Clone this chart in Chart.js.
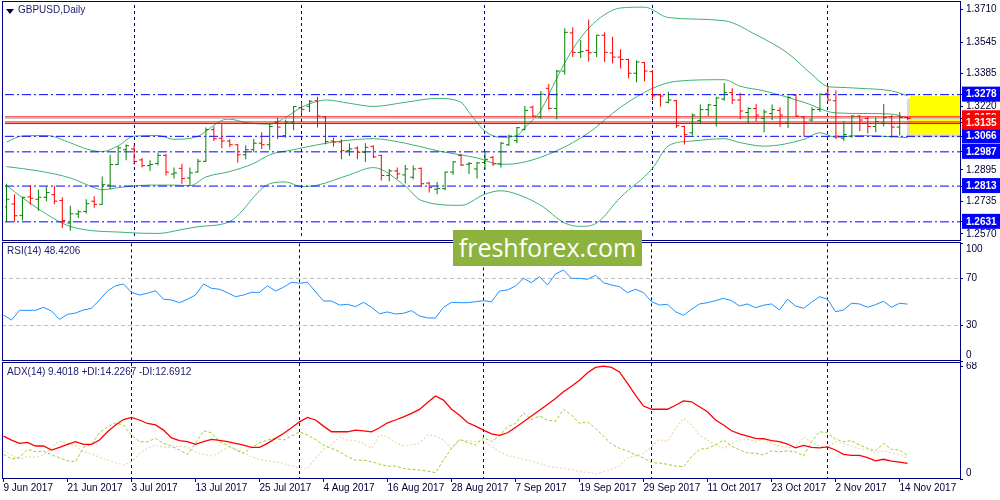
<!DOCTYPE html>
<html>
<head>
<meta charset="utf-8">
<title>GBPUSD Daily</title>
<script src="https://cdn.jsdelivr.net/npm/chart.js@4.4.1/dist/chart.umd.min.js"></script>
<style>
  html, body { margin: 0; padding: 0; background: #fff; }
  body { width: 1000px; height: 500px; position: relative; overflow: hidden; font-family: 'Liberation Sans', Arial, sans-serif; }
  canvas { position: absolute; left: 0; }
  .frame { position: absolute; left: 2px; width: 959px; border: 1px solid #000080; box-sizing: border-box; pointer-events: none; }
  .lbl { position: absolute; font-size: 10px; color: #202070; white-space: nowrap; }
  .tri { position: absolute; left: 6px; top: 9px; width: 0; height: 0; border-left: 4px solid transparent; border-right: 4px solid transparent; border-top: 5px solid #000040; }
  #brand { position: absolute; left: 453px; top: 230px; width: 189px; height: 36px; background: #8db33f; color: #fff; font-family: 'Open Sans', sans-serif; font-size: 25px; line-height: 35px; text-align: center; }
</style>
</head>
<body>
<canvas id="priceChart" width="1000" height="241" style="top:0"></canvas>
<canvas id="rsiChart" width="1000" height="120" style="top:242px"></canvas>
<canvas id="adxChart" width="1000" height="138" style="top:362px"></canvas>
<div class="frame" style="top:1px;height:240px"></div>
<div class="frame" style="top:242px;height:119px"></div>
<div class="frame" style="top:362px;height:117px"></div>
<div class="tri"></div>
<div class="lbl" style="left:18px;top:4px">GBPUSD,Daily</div>
<div class="lbl" style="left:7px;top:245px">RSI(14) 48.4206</div>
<div class="lbl" style="left:7px;top:366px">ADX(14) 9.4018 +DI:14.2267 -DI:12.6912</div>
<div id="brand">freshforex.com</div>
<script>
// date axis: one label every 8 daily bars, month separators
const xTickPos = [0, 8, 16, 24, 32, 40, 48, 56, 64, 72, 80, 88, 96, 104, 112];
const xTickLabels = ['9 Jun 2017', '21 Jun 2017', '3 Jul 2017', '13 Jul 2017', '25 Jul 2017', '4 Aug 2017',
  '16 Aug 2017', '28 Aug 2017', '7 Sep 2017', '19 Sep 2017', '29 Sep 2017', '11 Oct 2017',
  '23 Oct 2017', '2 Nov 2017', '14 Nov 2017'];
const monthStarts = [16, 37, 60, 81, 103];

// GBPUSD daily bars
const open = [
  1.2707,1.2722,1.2664,1.2758,1.2746,1.2756,1.2769,1.2740,1.2625,1.2671,
  1.2684,1.2736,1.2720,1.2818,1.2923,1.2998,1.3002,1.2946,1.2917,1.2928,
  1.2969,1.2874,1.2903,1.2854,1.2884,1.2939,1.3100,1.3056,1.3042,1.3023,
  1.2972,1.2998,1.3031,1.3023,1.3139,1.3070,1.3138,1.3212,1.3219,1.3247,
  1.3165,1.3042,1.3037,1.2993,1.3006,1.2985,1.3015,1.2969,1.2867,1.2890,
  1.2870,1.2858,1.2903,1.2828,1.2797,1.2800,1.2884,1.2969,1.2924,1.2900,
  1.2933,1.2959,1.2926,1.3023,1.3044,1.3100,1.3214,1.3165,1.3310,1.3208,
  1.3398,1.3592,1.3493,1.3503,1.3493,1.3580,1.3490,1.3469,1.3457,1.3387,
  1.3441,1.3395,1.3277,1.3239,1.3247,1.3116,1.3084,1.3146,1.3202,1.3223,
  1.3256,1.3288,1.3251,1.3187,1.3207,1.3157,1.3182,1.3198,1.3133,1.3275,
  1.3165,1.3149,1.3202,1.3285,1.3247,1.3056,1.3067,1.3169,1.3157,1.3116,
  1.3133,1.3165,1.3113,1.3162];
const high = [
  1.2825,1.2772,1.2759,1.2818,1.2795,1.2810,1.2815,1.2756,1.2713,1.2690,
  1.2746,1.2761,1.2862,1.2972,1.3015,1.3026,1.3021,1.2956,1.2944,1.2982,
  1.2976,1.2907,1.2926,1.2907,1.2952,1.3111,1.3116,1.3128,1.3051,1.3026,
  1.3021,1.3054,1.3087,1.3129,1.3160,1.3152,1.3219,1.3239,1.3251,1.3267,
  1.3169,1.3059,1.3051,1.3030,1.3015,1.3031,1.3021,1.2972,1.2900,1.2907,
  1.2920,1.2917,1.2907,1.2834,1.2834,1.2887,1.2939,1.2977,1.2936,1.2936,
  1.2993,1.2966,1.3037,1.3075,1.3113,1.3221,1.3221,1.3297,1.3332,1.3403,
  1.3616,1.3621,1.3556,1.3660,1.3583,1.3595,1.3572,1.3509,1.3460,1.3452,
  1.3444,1.3403,1.3283,1.3293,1.3251,1.3120,1.3182,1.3228,1.3231,1.3267,
  1.3337,1.3310,1.3288,1.3214,1.3231,1.3202,1.3228,1.3214,1.3272,1.3280,
  1.3169,1.3214,1.3285,1.3321,1.3300,1.3141,1.3174,1.3174,1.3165,1.3162,
  1.3231,1.3174,1.3190,1.3165];
const low = [
  1.2631,1.2631,1.2638,1.2718,1.2687,1.2736,1.2720,1.2600,1.2586,1.2651,
  1.2674,1.2703,1.2718,1.2795,1.2920,1.2944,1.2923,1.2907,1.2890,1.2917,
  1.2867,1.2851,1.2825,1.2813,1.2882,1.2936,1.3042,1.3005,1.3010,1.2933,
  1.2949,1.2985,1.3002,1.2998,1.3051,1.3059,1.3097,1.3182,1.3190,1.3111,
  1.3026,1.3013,1.2949,1.2966,1.2949,1.2936,1.2956,1.2841,1.2838,1.2849,
  1.2826,1.2848,1.2808,1.2780,1.2772,1.2792,1.2870,1.2915,1.2874,1.2851,
  1.2895,1.2915,1.2907,1.3018,1.3031,1.3097,1.3162,1.3157,1.3202,1.3153,
  1.3379,1.3469,1.3464,1.3447,1.3469,1.3444,1.3436,1.3411,1.3362,1.3341,
  1.3346,1.3251,1.3218,1.3234,1.3108,1.3025,1.3070,1.3129,1.3169,1.3116,
  1.3247,1.3231,1.3153,1.3133,1.3141,1.3087,1.3149,1.3113,1.3108,1.3165,
  1.3067,1.3141,1.3190,1.3244,1.3051,1.3042,1.3059,1.3092,1.3080,1.3087,
  1.3116,1.3059,1.3070,1.3149];
const close = [
  1.2746,1.2662,1.2756,1.2751,1.2756,1.2780,1.2736,1.2638,1.2672,1.2682,
  1.2723,1.2720,1.2820,1.2923,1.3007,1.3018,1.2938,1.2917,1.2923,1.2969,
  1.2884,1.2880,1.2851,1.2880,1.2939,1.3100,1.3054,1.3042,1.3023,1.2972,
  1.2998,1.3031,1.3023,1.3116,1.3113,1.3138,1.3218,1.3203,1.3244,1.3169,
  1.3039,1.3037,1.2993,1.3002,1.2985,1.3010,1.2961,1.2867,1.2890,1.2875,
  1.2900,1.2900,1.2825,1.2805,1.2800,1.2884,1.2936,1.2920,1.2928,1.2931,
  1.2949,1.2926,1.3031,1.3067,1.3110,1.3198,1.3169,1.3280,1.3208,1.3398,
  1.3595,1.3493,1.3497,1.3491,1.3580,1.3493,1.3469,1.3457,1.3387,1.3444,
  1.3398,1.3272,1.3271,1.3251,1.3120,1.3075,1.3174,1.3202,1.3226,1.3261,
  1.3288,1.3251,1.3195,1.3207,1.3174,1.3190,1.3202,1.3174,1.3264,1.3169,
  1.3133,1.3202,1.3280,1.3251,1.3067,1.3075,1.3169,1.3149,1.3116,1.3141,
  1.3162,1.3113,1.3162,1.3157];

// Bollinger bands, [bar, price] at the visible turns
const bbUpper = [[0,1.3037],[2,1.3068],[5,1.3070],[8,1.3033],[10,1.3002],[12,1.2988],[14,1.3018],[16,1.3067],
  [19,1.3070],[21,1.3051],[24,1.3066],[25,1.3092],[27,1.3147],[28,1.3153],[30,1.3136],[33,1.3128],[35,1.3162],
  [37,1.3214],[39,1.3244],[40,1.3251],[43,1.3234],[46,1.3218],[50,1.3239],[54,1.3259],[57,1.3239],[58,1.3188],
  [60,1.3092],[62,1.3061],[64,1.3070],[65,1.3110],[67,1.3198],[69,1.3362],[71,1.3509],[73,1.3616],[75,1.3685],
  [77,1.3719],[80,1.3723],[83,1.3670],[90,1.3654],[94,1.3582],[98,1.3488],[101,1.3380],[103,1.3319],[104,1.3316],
  [107,1.3310],[111,1.3297],[113,1.3272]];
const bbMiddle = [[0,1.2912],[4,1.2890],[8,1.2854],[11,1.2805],[12,1.2794],[14,1.2805],[18,1.2818],[21,1.2818],
  [23,1.2815],[25,1.2859],[28,1.2887],[31,1.2928],[33,1.2972],[36,1.2998],[39,1.3023],[42,1.3042],[46,1.3054],
  [50,1.3031],[54,1.2993],[59,1.2956],[62,1.2924],[64,1.2928],[69,1.2993],[73,1.3084],[77,1.3214],[81,1.3310],
  [84,1.3346],[90,1.3354],[92,1.3321],[95,1.3297],[100,1.3239],[104,1.3185],[108,1.3182],[111,1.3179],[113,1.3159]];
const bbLower = [[0,1.2815],[4,1.2697],[8,1.2608],[15,1.2577],[19,1.2572],[22,1.2592],[24,1.2606],[28,1.2633],
  [33,1.2825],[35,1.2834],[37,1.2810],[39,1.2818],[43,1.2870],[46,1.2907],[50,1.2813],[52,1.2740],[57,1.2715],
  [60,1.2772],[62,1.2789],[64,1.2772],[67,1.2715],[70,1.2625],[72,1.2608],[74,1.2625],[77,1.2756],[81,1.2903],
  [83,1.3018],[86,1.3042],[90,1.3054],[92,1.3034],[95,1.3016],[100,1.3051],[102,1.3084],[104,1.3061],[107,1.3070],
  [111,1.3064],[113,1.3059]];

// drawn levels and price scale labels
const blueLevels = [1.3278, 1.3066, 1.2987, 1.2813, 1.2631];
const redLevels = [1.3165, 1.3139, 1.3131];
const bidLevel = 1.3157;
const redLabels = [1.3158, 1.3135];
const priceTicks = [1.3710, 1.3545, 1.3385, 1.3220, 1.2895, 1.2735, 1.2570];
const zoneBox = [113.3, 1.3075, 1.3272]; // from bar, bottom, top

// RSI(14)
const rsi = [
  39.1,34.8,43.1,43.1,43.1,45.7,42.5,35.4,39.7,40.8,
  43.4,44.8,51.9,59.5,64.0,65.5,58.4,56.1,57.6,59.8,
  52.5,51.9,49.6,52.5,56.1,65.5,61.8,61.0,58.1,54.7,
  56.1,58.4,58.4,64.0,59.5,62.7,66.9,66.1,66.9,58.9,
  51.0,51.0,47.6,48.2,46.2,49.9,45.7,40.2,41.7,40.0,
  40.6,42.8,38.3,36.6,36.6,45.7,49.9,49.6,49.6,50.4,
  51.3,50.4,59.5,60.4,63.8,70.3,66.6,71.7,64.6,74.0,
  77.4,70.3,70.3,69.5,72.9,66.6,64.6,63.2,58.1,61.0,
  58.1,50.4,47.6,48.2,41.9,38.9,44.0,48.5,49.6,51.3,
  53.3,51.3,46.8,48.5,45.3,47.4,48.5,43.4,52.5,46.8,
  44.8,49.9,54.7,52.5,41.9,43.4,49.1,48.5,45.7,47.9,
  50.8,45.7,49.1,48.4];
const rsiTicks = [100, 70, 30, 0];
const rsiLevels = [70, 30];

// ADX(14) with +DI / -DI
const adx = [
  25.9,23.5,21.5,22.1,19.9,19.9,17.5,19.1,20.9,22.5,
  20.9,20.9,23.5,28.5,32.6,35.9,37.2,35.6,33.5,32.6,
  29.5,24.8,23.1,22.5,20.9,22.5,23.9,23.3,22.5,21.5,
  20.5,19.1,19.1,21.5,24.5,27.5,30.9,34.5,37.2,35.6,
  31.9,28.5,28.5,28.5,29.5,29.1,28.5,30.9,33.9,35.6,
  37.5,39.6,42.0,46.2,50.1,47.6,42.1,38.5,34.1,31.9,
  29.5,27.2,26.3,27.9,31.1,34.5,38.0,41.5,45.0,48.6,
  52.6,56.0,59.6,64.1,67.3,68.1,67.3,64.6,57.7,50.6,
  44.0,42.1,42.1,42.1,44.5,47.1,46.6,43.6,40.6,35.6,
  32.6,29.1,27.2,25.9,24.5,24.3,23.1,22.5,21.1,18.8,
  20.3,19.1,18.8,19.4,17.5,14.9,14.3,14.3,12.9,11.0,
  11.9,10.8,10.2,9.4];
const plusDi = [
  14.9,12.0,13.1,17.9,16.4,16.9,14.5,12.8,11.0,10.4,
  19.1,20.9,27.9,31.5,33.9,32.5,26.5,22.5,22.5,24.5,
  21.5,19.9,17.5,14.9,21.5,29.1,27.9,22.5,20.5,17.5,
  15.5,19.1,21.9,23.5,24.5,23.5,25.9,28.5,26.5,23.9,
  20.5,18.5,16.4,13.4,11.4,11.4,10.4,9.0,7.8,7.8,
  6.4,5.8,5.4,4.8,3.8,11.4,18.5,23.9,21.9,20.5,
  25.1,22.5,26.1,31.5,33.5,39.9,36.0,38.0,35.5,34.9,
  42.0,38.6,33.5,34.5,30.5,25.9,21.1,18.5,17.0,14.5,
  12.8,9.8,9.6,8.9,7.8,7.4,13.4,17.9,18.5,20.5,
  23.5,19.9,17.5,15.8,15.5,14.5,17.0,16.4,17.0,16.4,
  13.9,22.5,28.5,27.9,24.1,22.5,23.1,20.5,18.5,17.0,
  21.5,17.9,17.5,14.2];
const minusDi = [
  17.0,14.5,11.9,13.4,13.1,14.5,19.1,22.9,21.5,19.9,
  16.4,15.1,13.1,11.4,9.8,8.4,10.4,15.5,18.5,20.5,
  19.1,19.1,19.9,19.1,16.4,14.9,13.9,15.8,19.1,18.5,
  15.8,13.4,11.9,10.8,10.4,9.4,7.8,7.0,6.4,12.5,
  17.9,20.5,25.5,23.5,23.1,21.5,18.5,26.5,25.5,21.9,
  19.9,20.5,21.5,26.5,25.9,23.5,18.5,23.5,23.1,22.5,
  23.1,19.5,16.5,14.1,13.1,11.9,10.8,9.4,7.8,7.0,
  6.4,5.8,4.4,4.0,3.0,4.4,5.8,7.8,12.8,13.9,
  15.5,19.5,23.9,22.5,30.5,36.6,32.5,26.5,23.5,20.5,
  18.5,21.5,23.5,23.9,22.5,23.9,21.5,19.9,19.1,19.1,
  25.5,21.9,19.9,19.1,22.5,21.5,19.9,18.5,17.5,15.8,
  17.0,15.8,14.5,12.7];
const adxTicks = [68, 0];

Chart.defaults.font.family = "'Liberation Sans', Arial, sans-serif";
Chart.defaults.font.size = 10;

const NAVY = '#000080';
const TEXT = '#000033';
const xMin = -0.1875;
const xMax = xMin + 958 / 8;   // 8 px per bar
const tickOff = 1.5 / 8;

const idx = open.map((_, i) => i);
const barColor = idx.map(i => close[i] >= open[i] ? '#008000' : '#ff0000');
const pts = arr => arr.map((v, i) => ({ x: i, y: v }));
const pairs = arr => arr.map(p => ({ x: p[0], y: p[1] }));
const span = (v, from = xMin) => [{ x: from, y: v }, { x: xMax, y: v }];
const tv = c => (c && c.tick ? c.tick.value : null);

const baseOpts = padding => ({
  responsive: false,
  animation: false,
  devicePixelRatio: 1,
  events: [],
  layout: { padding },
  plugins: { legend: { display: false }, tooltip: { enabled: false } }
});

const hiddenX = () => ({ type: 'linear', min: xMin, max: xMax, offset: false, display: false });
const monthAxis = () => ({
  type: 'linear', position: 'bottom', min: xMin, max: xMax, offset: false,
  afterBuildTicks: s => { s.ticks = monthStarts.map(v => ({ value: v })); },
  afterFit: s => { s.height = 0; s.paddingLeft = 0; s.paddingRight = 0; },
  ticks: { display: false },
  grid: { color: NAVY, drawTicks: false, offset: false },
  border: { display: false, dash: [3, 3] }
});
const fitRight = s => { s.width = 40; s.paddingTop = 0; s.paddingBottom = 0; };

// ---- price panel
const boxed = v => blueLevels.includes(v) || redLabels.includes(v);
const lineSet = (data, color, extra) => Object.assign({
  type: 'line', data, borderColor: color, borderWidth: 1, pointRadius: 0,
  xAxisID: 'x', yAxisID: 'y'
}, extra);

const priceSets = [
  { type: 'scatter', data: idx.map(i => ({ x: i - tickOff, y: open[i] })), pointStyle: 'line',
    pointRadius: 1.5, pointBorderWidth: 1, pointBorderColor: barColor, xAxisID: 'x', yAxisID: 'y', order: 0 },
  { type: 'scatter', data: idx.map(i => ({ x: i + tickOff, y: close[i] })), pointStyle: 'line',
    pointRadius: 1.5, pointBorderWidth: 1, pointBorderColor: barColor, xAxisID: 'x', yAxisID: 'y', order: 0 },
  { type: 'bar', data: idx.map(i => ({ x: i, y: [low[i], high[i]] })), backgroundColor: barColor,
    barThickness: 1, inflateAmount: 0, borderWidth: 0, xAxisID: 'x', yAxisID: 'y', order: 1 }
];
redLevels.forEach(v => priceSets.push(lineSet(span(v), '#ff0000', { order: 2 })));
priceSets.push(lineSet(span(bidLevel), '#c0c0c0', { order: 2 }));
blueLevels.forEach(v => priceSets.push(lineSet(span(v), '#0000ff', { borderDash: [9, 3, 2, 3], order: 2 })));
[bbUpper, bbMiddle, bbLower].forEach(b => priceSets.push(lineSet(pairs(b), '#3cb371',
  { cubicInterpolationMode: 'monotone', order: 3 })));
// yellow zone (with a soft shadow under it)
priceSets.push(lineSet(span(zoneBox[2], zoneBox[0]), 'rgba(0,0,0,0)',
  { borderWidth: 0, fill: '+1', backgroundColor: '#ffff00', order: 4 }));
priceSets.push(lineSet(span(zoneBox[1], zoneBox[0]), 'rgba(0,0,0,0)', { borderWidth: 0, order: 4 }));
priceSets.push(lineSet(span(zoneBox[2] - 0.0015, zoneBox[0] - 0.4), 'rgba(0,0,0,0)',
  { borderWidth: 0, fill: '+1', backgroundColor: 'rgba(0,0,0,0.15)', order: 5 }));
priceSets.push(lineSet(span(zoneBox[1] - 0.0015, zoneBox[0] - 0.4), 'rgba(0,0,0,0)', { borderWidth: 0, order: 5 }));

new Chart(document.getElementById('priceChart'), {
  type: 'scatter',
  data: { datasets: priceSets },
  options: Object.assign(baseOpts({ top: 1, bottom: 1, left: 2, right: 0 }), {
    scales: {
      x: hiddenX(),
      xm: monthAxis(),
      y: {
        type: 'linear', position: 'right', min: 1.2559, max: 1.3734,
        afterFit: fitRight,
        afterBuildTicks: s => { s.ticks = priceTicks.concat(blueLevels, redLabels).map(v => ({ value: v })); },
        ticks: {
          autoSkip: false, padding: 3,
          callback: v => v.toFixed(4),
          color: c => boxed(tv(c)) ? '#ffffff' : TEXT,
          font: c => ({ size: 10, weight: boxed(tv(c)) ? 'bold' : 'normal' }),
          showLabelBackdrop: c => boxed(tv(c)),
          backdropColor: c => redLabels.includes(tv(c)) ? '#ff0000' : '#0000ff',
          backdropPadding: { top: 2, bottom: 1, left: 4, right: 6 }
        },
        grid: { drawOnChartArea: false, tickLength: 3, tickColor: NAVY },
        border: { display: false }
      }
    }
  })
});

// ---- RSI panel
new Chart(document.getElementById('rsiChart'), {
  type: 'line',
  data: { datasets: [
    { data: pts(rsi), borderColor: '#1e90ff', borderWidth: 1, pointRadius: 0, xAxisID: 'x', yAxisID: 'y' }
  ] },
  options: Object.assign(baseOpts({ top: 1.4, bottom: 1, left: 2, right: 0 }), {
    scales: {
      x: hiddenX(),
      xm: monthAxis(),
      y: {
        type: 'linear', position: 'right', min: 0, max: 100,
        afterFit: fitRight,
        afterBuildTicks: s => { s.ticks = rsiTicks.map(v => ({ value: v })); },
        ticks: { autoSkip: false, padding: 3, color: TEXT,
          callback: v => v === 100 ? ['', '100'] : (v === 0 ? ['0', ''] : String(v)) },
        grid: { color: c => rsiLevels.includes(tv(c)) ? '#c0c0c0' : 'rgba(0,0,0,0)',
          tickLength: 3, tickColor: NAVY },
        border: { display: false, dash: [4, 3] }
      }
    }
  })
});

// ---- ADX panel
new Chart(document.getElementById('adxChart'), {
  type: 'line',
  data: { datasets: [
    { data: pts(adx), borderColor: '#ff0000', borderWidth: 1.3, pointRadius: 0, xAxisID: 'x', yAxisID: 'y' },
    { data: pts(plusDi), borderColor: '#9acd32', borderWidth: 1, borderDash: [3, 2], pointRadius: 0, xAxisID: 'x', yAxisID: 'y' },
    { data: pts(minusDi), borderColor: '#f0d8a8', borderWidth: 1.2, borderDash: [2, 2], pointRadius: 0, xAxisID: 'x', yAxisID: 'y' }
  ] },
  options: Object.assign(baseOpts({ top: 1, bottom: 0, left: 2, right: 0 }), {
    scales: {
      x: {
        type: 'linear', position: 'bottom', min: xMin, max: xMax, offset: false,
        afterBuildTicks: s => { s.ticks = xTickPos.map(v => ({ value: v })); },
        afterFit: s => { s.height = 21; s.paddingLeft = 0; s.paddingRight = 0; },
        ticks: { autoSkip: false, maxRotation: 0, minRotation: 0, align: 'start', padding: 0, color: TEXT,
          callback: (v, i) => xTickLabels[i] },
        grid: { drawOnChartArea: false, tickLength: 3, tickColor: NAVY },
        border: { display: false }
      },
      xm: monthAxis(),
      y: {
        type: 'linear', position: 'right', min: 0, max: 70,
        afterFit: fitRight,
        afterBuildTicks: s => { s.ticks = adxTicks.map(v => ({ value: v })); },
        ticks: { autoSkip: false, padding: 3, color: TEXT,
          callback: v => v === 0 ? ['0', ''] : String(v) },
        grid: { drawOnChartArea: false, tickLength: 3, tickColor: NAVY },
        border: { display: false }
      }
    }
  })
});
</script>
</body>
</html>
